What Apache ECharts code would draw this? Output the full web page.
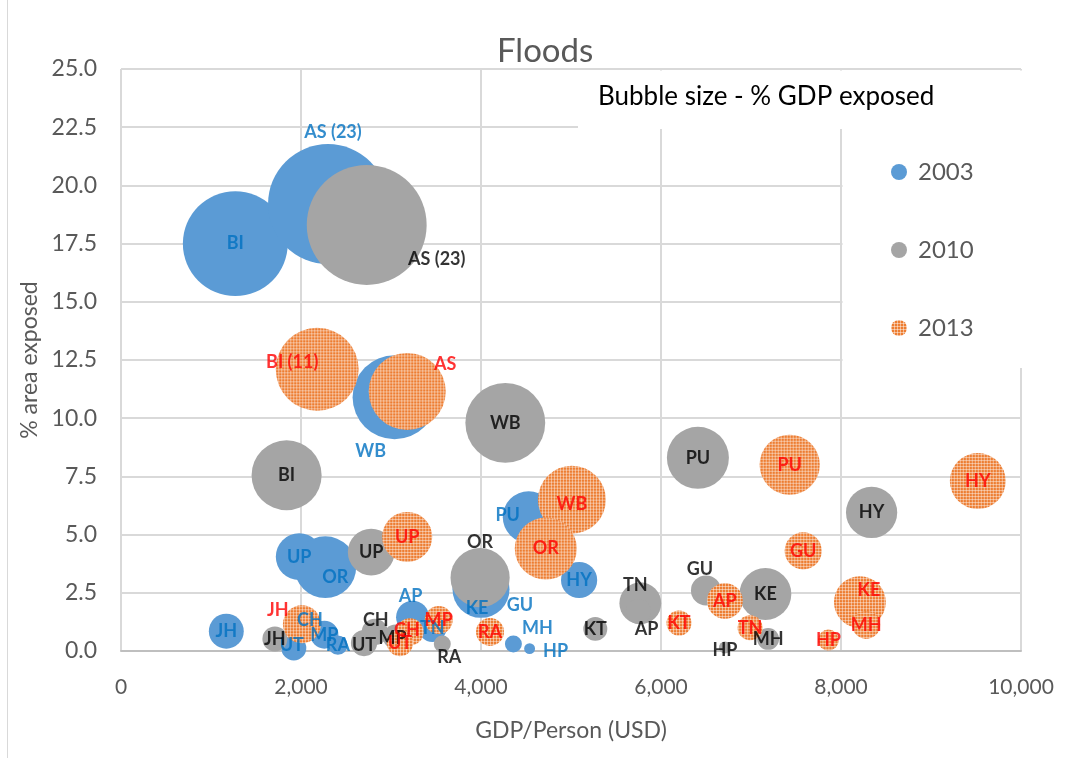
<!DOCTYPE html>
<html>
<head>
<meta charset="utf-8">
<title>Floods</title>
<script src="https://cdn.jsdelivr.net/npm/echarts@6/dist/echarts.min.js"></script>
<style>
  html, body { margin: 0; padding: 0; background: #ffffff; }
  #chart { width: 1065px; height: 758px; }
</style>
</head>
<body>
<div id="chart"></div>
<script>
// State-level flood exposure: GDP per person vs. share of area exposed,
// bubble area = % of GDP exposed.

// ---- 2003 ----
const labels2003 = ['BI', 'AS (23)', 'WB', 'UP', 'OR', 'PU', 'HY', 'KE', 'GU', 'AP', 'TN', 'MH', 'HP', 'JH', 'UT', 'MP', 'RA', 'CH'];
const gdp2003    = [1270, 2300, 3040, 1980, 2270, 4530, 5090, 4000, 4100, 3240, 3460, 4360, 4540, 1170, 1920, 2260, 2410, 2000];
const area2003   = [17.5, 19.2, 10.9, 4.05, 3.6, 5.75, 3.05, 2.65, 2.8, 1.45, 1.0, 0.3, 0.1, 0.85, 0.13, 0.7, 0.25, 1.05];
const size2003   = [17.6, 23, 11.3, 3.5, 6.1, 4.3, 2.1, 5.2, 1.5, 1.75, 1.3, 0.46, 0.19, 1.95, 1.0, 1.25, 0.6, 1.2];

// ---- 2010 ----
const labels2010 = ['AS (23)', 'WB', 'BI', 'PU', 'HY', 'UP', 'OR', 'TN', 'AP', 'GU', 'KE', 'KT', 'MH', 'HP', 'CH', 'UT', 'JH', 'MP', 'RA'];
const gdp2010    = [2730, 4270, 1840, 6410, 8340, 2780, 3990, 5770, 5750, 6500, 7160, 5270, 7190, 6710, 2820, 2700, 1710, 3050, 3570];
const area2010   = [18.3, 9.8, 7.55, 8.3, 5.95, 4.25, 3.15, 2.05, 1.7, 2.6, 2.45, 0.95, 0.52, 0.15, 0.82, 0.34, 0.52, 0.6, 0.3];
const size2010   = [23, 10.2, 7.85, 6.15, 4.2, 3.5, 5.6, 2.8, 1.0, 1.45, 4.3, 0.92, 0.77, 0.23, 1.1, 1.1, 1.0, 1.0, 0.46];

// ---- 2013 ----
const labels2013 = ['BI (11)', 'AS', 'PU', 'HY', 'WB', 'OR', 'UP', 'GU', 'KE', 'MH', 'HP', 'AP', 'TN', 'KT', 'RA', 'MP', 'CH', 'UT', 'JH'];
const gdp2013    = [2180, 3180, 7430, 9520, 5010, 4720, 3180, 7580, 8210, 8280, 7860, 6710, 6990, 6200, 4100, 3530, 3210, 3100, 2010];
const area2013   = [12.1, 11.15, 8.0, 7.3, 6.5, 4.4, 4.9, 4.3, 2.1, 1.12, 0.47, 2.15, 1.0, 1.2, 0.82, 1.33, 0.82, 0.34, 1.15];
const size2013   = [11, 9.5, 5.8, 5.0, 7.4, 6.15, 4.0, 2.2, 4.3, 1.25, 0.7, 2.05, 1.0, 1.0, 1.25, 1.25, 1.2, 1.1, 2.3];

// Axis ticks
const xTicks = { min: 0, max: 10000, interval: 2000 };
const yTicks = { min: 0, max: 25, interval: 2.5 };

// Label nudges (pixels from bubble centre), keyed by label text
const labelShift2003 = {
  'AS (23)': [5, -72], 'WB': [-24, 54], 'OR': [10, 10], 'PU': [-21, -2], 'KE': [-4, 19],
  'GU': [30, 19], 'AP': [-2, -21], 'MH': [24, -16], 'HP': [26, 3], 'UT': [-2, -3], 'CH': [9, -6]
};
const labelShift2010 = {
  'AS (23)': [70, 34], 'OR': [0, -35], 'TN': [-5, -18], 'AP': [8, 18], 'GU': [-6, -21],
  'HP': [0, 3], 'CH': [1, -12], 'UT': [0, 2], 'MP': [-3, 1], 'RA': [7, 13]
};
const labelShift2013 = {
  'BI (11)': [-25, -7], 'AS': [38, -27], 'WB': [0, 5], 'KE': [9, -12], 'CH': [-3, -2], 'JH': [-24, -14]
};

const FONT = 'Lato, "Open Sans", sans-serif';
const BUBBLE_SCALE = 25; // px of diameter per sqrt(% GDP)

// Small-grid hatch tile for the 2013 bubbles
const hatchTile = (function () {
  const c = document.createElement('canvas');
  c.width = 3; c.height = 3;
  const g = c.getContext('2d');
  g.fillStyle = '#ED7D31';
  g.fillRect(0, 0, 3, 3);
  g.fillStyle = 'rgba(255,255,255,0.45)';
  g.fillRect(0, 0, 3, 1);
  g.fillRect(0, 0, 1, 3);
  return c;
})();

// Scatter symbols are drawn in a 2x2 box and scaled up by size/2,
// so the tile is scaled down by the same factor to keep it fine.
function hatch(diameter) {
  const s = diameter ? 2 / diameter : 1;
  return { image: hatchTile, repeat: 'repeat', scaleX: s, scaleY: s };
}

function bubbleDiameter(size) {
  return BUBBLE_SCALE * Math.sqrt(size);
}

function points(gdp, area, size, labels, patterned) {
  return gdp.map((g, i) => {
    const item = { name: labels[i], value: [g, area[i], size[i]] };
    if (patterned) item.itemStyle = { color: hatch(bubbleDiameter(size[i])) };
    return item;
  });
}

function bubbleSeries(name, data, color, z) {
  return {
    name: name,
    type: 'scatter',
    data: data,
    z: z,
    symbol: 'circle',
    symbolSize: v => bubbleDiameter(v[2]),
    itemStyle: { color: color, opacity: 1 },
    emphasis: { disabled: true },
    label: { show: false }
  };
}

// Names drawn on top of every bubble, in series order
function labelSeries(data, color, shifts) {
  return {
    type: 'scatter',
    data: data.map(d => ({ name: d.name, value: d.value })),
    z: 10,
    silent: true,
    symbol: 'circle',
    symbolSize: 1,
    itemStyle: { color: 'rgba(0,0,0,0)' },
    emphasis: { disabled: true },
    tooltip: { show: false },
    label: {
      show: true,
      position: 'inside',
      formatter: p => p.name,
      color: color,
      fontFamily: FONT,
      fontWeight: 'bold',
      fontSize: 18
    },
    labelLayout: function (params) {
      const s = shifts[data[params.dataIndex].name] || [0, 0];
      return { dx: s[0], dy: s[1], hideOverlap: false };
    }
  };
}

const d2003 = points(gdp2003, area2003, size2003, labels2003, false);
const d2010 = points(gdp2010, area2010, size2010, labels2010, false);
const d2013 = points(gdp2013, area2013, size2013, labels2013, true);

const chart = echarts.init(document.getElementById('chart'), null, { renderer: 'canvas' });

chart.setOption({
  animation: false,
  backgroundColor: '#ffffff',
  grid: { left: 121, right: 44, top: 69, bottom: 107 },
  xAxis: {
    type: 'value',
    min: xTicks.min, max: xTicks.max, interval: xTicks.interval,
    name: 'GDP/Person (USD)',
    nameLocation: 'middle',
    nameGap: 68,
    nameTextStyle: { fontFamily: FONT, fontSize: 23, color: '#595959' },
    axisLine: { show: true, lineStyle: { color: '#BFBFBF', width: 2 } },
    axisTick: { show: false },
    splitLine: { show: true, lineStyle: { color: '#D9D9D9', width: 2 } },
    axisLabel: {
      fontFamily: FONT, fontSize: 21, color: '#595959', margin: 26,
      formatter: v => v.toLocaleString('en-US')
    }
  },
  yAxis: {
    type: 'value',
    min: yTicks.min, max: yTicks.max, interval: yTicks.interval,
    name: '% area exposed',
    nameLocation: 'middle',
    nameGap: 78,
    nameTextStyle: { fontFamily: FONT, fontSize: 23, color: '#595959' },
    axisLine: { show: false },
    axisTick: { show: false },
    splitLine: { show: true, lineStyle: { color: '#D9D9D9', width: 2 } },
    axisLabel: {
      fontFamily: FONT, fontSize: 23, color: '#595959', margin: 24,
      formatter: v => v.toFixed(1)
    }
  },
  legend: {
    data: ['2003', '2010', '2013'],
    orient: 'vertical',
    left: 886,
    top: 155,
    itemGap: 54,
    itemWidth: 16,
    itemHeight: 16,
    icon: 'circle',
    selectedMode: false,
    textStyle: { fontFamily: FONT, fontSize: 24, color: '#595959', lineHeight: 24, padding: [0, 0, 0, 6] }
  },
  graphic: [
    // outer frame line on the left
    { type: 'line', z: 1, shape: { x1: 7.5, y1: 0, x2: 7.5, y2: 758 }, style: { stroke: '#D9D9D9', lineWidth: 1 } },
    // white panel behind the bubble-size note
    { type: 'rect', z: 1, shape: { x: 578, y: 70.5, width: 450, height: 58.5 }, style: { fill: '#ffffff' } },
    // white panel behind the legend
    { type: 'rect', z: 1, shape: { x: 842.5, y: 128, width: 190, height: 240 }, style: { fill: '#ffffff' } },
    {
      type: 'text', z: 2, left: 598, top: 84,
      style: { text: 'Bubble size - % GDP exposed', fontFamily: FONT, fontSize: 26, fill: '#000000' }
    },
    {
      type: 'text', z: 2, left: 497, top: 35,
      style: { text: 'Floods', fontFamily: FONT, fontSize: 33, fill: '#595959' }
    }
  ],
  series: [
    bubbleSeries('2003', d2003, '#5B9BD5', 3),
    bubbleSeries('2010', d2010, '#A5A5A5', 4),
    bubbleSeries('2013', d2013, { image: hatchTile, repeat: 'repeat' }, 5),
    labelSeries(d2003, '#0070C0', labelShift2003),
    labelSeries(d2010, '#000000', labelShift2010),
    labelSeries(d2013, '#FF0000', labelShift2013)
  ]
});
</script>
</body>
</html>
